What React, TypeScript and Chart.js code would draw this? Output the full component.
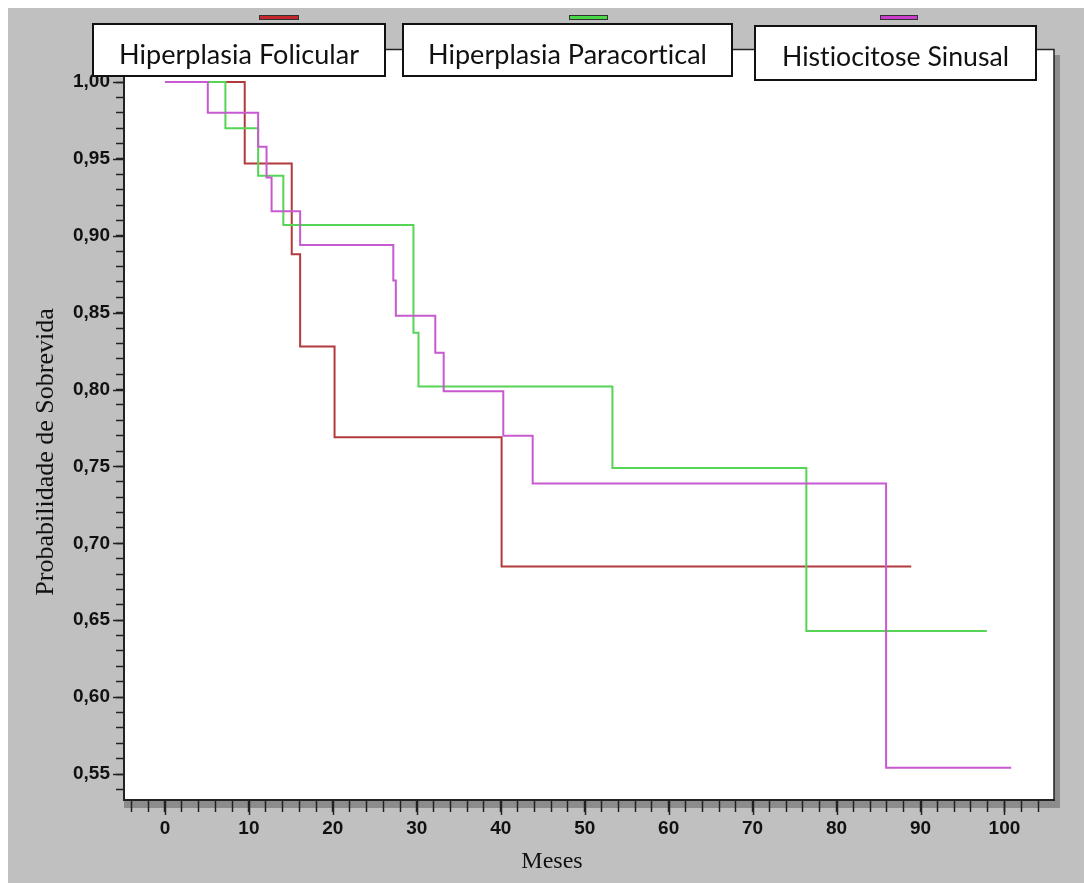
import React, { useEffect, useRef } from 'react';
import { Chart, registerables } from 'chart.js';

Chart.register(...registerables);

// ---- data ----
const seriesNames = ['Hiperplasia Folicular', 'Hiperplasia Paracortical', 'Histiocitose Sinusal'];

const folicularMonths = [0, 9.5, 15.1, 16.1, 20.2, 40.1, 88.9];
const folicularSurvival = [1.0, 0.947, 0.888, 0.828, 0.769, 0.685, 0.685];

const paracorticalMonths = [0, 7.2, 11.1, 14.1, 29.6, 30.2, 53.3, 76.4, 97.9];
const paracorticalSurvival = [1.0, 0.97, 0.939, 0.907, 0.837, 0.802, 0.749, 0.643, 0.643];

const sinusalMonths = [0, 5.1, 11.1, 12.1, 12.7, 16.1, 27.2, 27.5, 32.2, 33.2, 40.3, 43.8, 85.9, 100.8];
const sinusalSurvival = [1.0, 0.98, 0.958, 0.938, 0.916, 0.894, 0.871, 0.848, 0.824, 0.799, 0.77, 0.739, 0.554, 0.554];

const xMajorTicks = [0, 10, 20, 30, 40, 50, 60, 70, 80, 90, 100];
const yMajorTicks = [0.55, 0.6, 0.65, 0.7, 0.75, 0.8, 0.85, 0.9, 0.95, 1.0];

const xTitle = 'Meses';
const yTitle = 'Probabilidade de Sobrevida';

// ---- styles ----
const lineColors = ['#b23a3c', '#55d455', '#c75ad0'];
const markerColors = ['#c4282c', '#48d848', '#cc3ccc'];

const xMinorTicks: number[] = [];
for (let v = -4; v <= 104; v += 2) xMinorTicks.push(v);
const yMinorTicks: number[] = [];
for (let k = 54; k <= 102; k++) yMinorTicks.push(k / 100);

const legendBoxes = [
  { x1: 93, y1: 24, x2: 385, y2: 76, textW: 240, base: 63.5, mx1: 259, mx2: 299 },
  { x1: 403, y1: 24, x2: 732, y2: 76, textW: 279, base: 63.5, mx1: 569, mx2: 608 },
  { x1: 755, y1: 26, x2: 1036, y2: 80, textW: 227, base: 66, mx1: 880, mx2: 918 },
];

const toPoints = (xs: number[], ys: number[]) => xs.map((x, i) => ({ x, y: ys[i] }));

const decorPlugin = {
  id: 'decor',
  beforeDraw(chart: any) {
    const { ctx, chartArea: a, width, height } = chart;
    ctx.save();
    ctx.fillStyle = '#ffffff';
    ctx.fillRect(0, 0, width, height);
    ctx.fillStyle = '#c0c0c0';
    ctx.fillRect(8, 8, width - 8, height - 8);
    // drop shadow of plot panel
    ctx.fillStyle = '#8c8c8c';
    ctx.fillRect(a.left, a.bottom, a.right - a.left + 6, 8);
    ctx.fillRect(a.right, a.top + 6, 6, a.bottom - a.top + 2);
    ctx.fillStyle = '#ffffff';
    ctx.fillRect(a.left, a.top, a.right - a.left, a.bottom - a.top);
    ctx.restore();
  },
  afterDraw(chart: any) {
    const { ctx, chartArea: a } = chart;
    const xs = chart.scales.x;
    const ys = chart.scales.y;
    ctx.save();
    // top and right border of plot
    ctx.strokeStyle = '#222';
    ctx.lineWidth = 1.5;
    ctx.beginPath();
    ctx.moveTo(a.left, a.top + 0.5);
    ctx.lineTo(a.right, a.top + 0.5);
    ctx.lineTo(a.right, a.bottom);
    ctx.stroke();
    // longer major ticks
    ctx.lineWidth = 1.5;
    ctx.strokeStyle = '#222';
    ctx.beginPath();
    xMajorTicks.forEach((v) => {
      const px = Math.round(xs.getPixelForValue(v)) + 0.5;
      ctx.moveTo(px, a.bottom);
      ctx.lineTo(px, a.bottom + 15);
    });
    yMajorTicks.forEach((v) => {
      const py = Math.round(ys.getPixelForValue(v)) + 0.5;
      ctx.moveTo(a.left - 11, py);
      ctx.lineTo(a.left, py);
    });
    ctx.stroke();
    // legend
    legendBoxes.forEach((b, i) => {
      ctx.fillStyle = '#ffffff';
      ctx.fillRect(b.x1, b.y1, b.x2 - b.x1, b.y2 - b.y1);
      ctx.strokeStyle = '#111';
      ctx.lineWidth = 2;
      ctx.strokeRect(b.x1, b.y1, b.x2 - b.x1, b.y2 - b.y1);
      ctx.save();
      ctx.font = '27px Lato, "Open Sans", sans-serif';
      try {
        (ctx as any).letterSpacing = '0.01px';
      } catch (e) {
        /* ignore */
      }
      const w = ctx.measureText(seriesNames[i]).width;
      const sx = b.textW / w;
      ctx.translate((b.x1 + b.x2) / 2, b.base);
      ctx.scale(sx, 1);
      ctx.fillStyle = '#111';
      ctx.textAlign = 'center';
      ctx.textBaseline = 'alphabetic';
      ctx.fillText(seriesNames[i], 0, 0);
      ctx.restore();
      ctx.fillStyle = markerColors[i];
      ctx.fillRect(b.mx1, 15, b.mx2 - b.mx1, 5);
      ctx.strokeStyle = '#333';
      ctx.lineWidth = 1;
      ctx.strokeRect(b.mx1 + 0.5, 15.5, b.mx2 - b.mx1 - 1, 4);
    });
    // axis titles
    ctx.fillStyle = '#111';
    ctx.font = '24px "Liberation Serif", "DejaVu Serif", serif';
    ctx.textAlign = 'center';
    ctx.textBaseline = 'alphabetic';
    ctx.fillText(xTitle, 552, 868);
    ctx.save();
    ctx.translate(53, 452);
    ctx.rotate(-Math.PI / 2);
    ctx.font = '26px "Liberation Serif", "DejaVu Serif", serif';
    ctx.fillText(yTitle, 0, 0);
    ctx.restore();
    ctx.restore();
  },
};

export default function App() {
  const canvasRef = useRef<HTMLCanvasElement | null>(null);

  useEffect(() => {
    const canvas = canvasRef.current;
    if (!canvas) return;
    const chart = new Chart(canvas, {
      type: 'line',
      data: {
        datasets: [
          {
            label: seriesNames[0],
            data: toPoints(folicularMonths, folicularSurvival),
            borderColor: lineColors[0],
            order: 3,
          },
          {
            label: seriesNames[1],
            data: toPoints(paracorticalMonths, paracorticalSurvival),
            borderColor: lineColors[1],
            order: 2,
          },
          {
            label: seriesNames[2],
            data: toPoints(sinusalMonths, sinusalSurvival),
            borderColor: lineColors[2],
            order: 1,
          },
        ],
      },
      options: {
        animation: false,
        responsive: false,
        maintainAspectRatio: false,
        devicePixelRatio: 1,
        layout: { padding: { left: 0, top: 49, right: 30, bottom: 0 } },
        elements: {
          point: { radius: 0, hoverRadius: 0 },
          line: { borderWidth: 2, tension: 0, stepped: 'before', fill: false },
        },
        plugins: {
          legend: { display: false },
          tooltip: { enabled: false },
          title: { display: false },
        },
        scales: {
          x: {
            type: 'linear',
            min: -4.88,
            max: 105.9,
            afterFit: (s: any) => {
              s.height = 83;
            },
            afterBuildTicks: (s: any) => {
              s.ticks = xMinorTicks.map((v) => ({ value: v }));
            },
            grid: { drawOnChartArea: false, tickLength: 12, tickColor: '#222', tickWidth: 1.5 },
            border: { color: '#222', width: 2 },
            ticks: {
              autoSkip: false,
              maxRotation: 0,
              padding: 5,
              color: '#111',
              font: { family: '"Liberation Sans", Arial, sans-serif', size: 19, weight: 'bold' },
              callback: (v: any) => (xMajorTicks.includes(v) ? String(v) : ''),
            },
          },
          y: {
            type: 'linear',
            min: 0.5331,
            max: 1.0215,
            afterFit: (s: any) => {
              s.width = 124;
            },
            afterBuildTicks: (s: any) => {
              s.ticks = yMinorTicks.map((v) => ({ value: v }));
            },
            grid: { drawOnChartArea: false, tickLength: 8, tickColor: '#222', tickWidth: 1.5 },
            border: { color: '#222', width: 2 },
            ticks: {
              autoSkip: false,
              padding: 6,
              color: '#111',
              font: { family: '"Liberation Sans", Arial, sans-serif', size: 19, weight: 'bold' },
              callback: (v: any) => (yMajorTicks.includes(v) ? Number(v).toFixed(2).replace('.', ',') : ''),
            },
          },
        },
      },
      plugins: [decorPlugin],
    } as any);
    return () => chart.destroy();
  }, []);

  return (
    <div style={{ position: 'absolute', left: 0, top: 0, width: 1084, height: 883 }}>
      <canvas ref={canvasRef} width={1084} height={883} style={{ display: 'block' }} />
    </div>
  );
}
